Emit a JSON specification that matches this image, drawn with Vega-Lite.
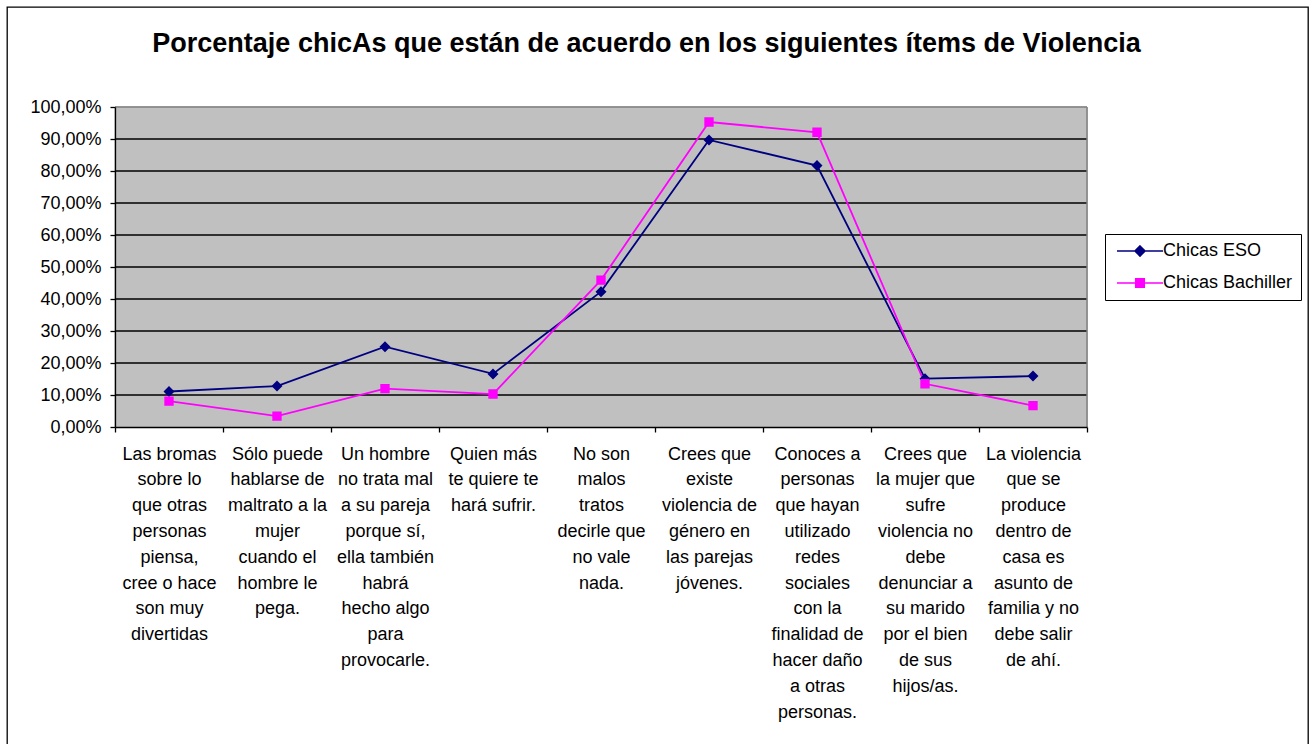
{
  "$schema": "https://vega.github.io/schema/vega-lite/v6.json",
  "width": 1301,
  "height": 738,
  "autosize": "none",
  "padding": {"left": 7, "top": 7, "right": 4, "bottom": 0},
  "background": "white",
  "config": {
    "font": "Liberation Sans",
    "view": {"stroke": "black", "strokeWidth": 1.3, "fill": "white"},
    "locale": {"number": {"decimal": ",", "thousands": ".", "grouping": [3], "currency": ["", " €"]}},
    "legend": {
      "orient": "none",
      "legendX": 1098,
      "legendY": 227,
      "strokeColor": "black",
      "fillColor": "white",
      "padding": 8,
      "labelFont": "Liberation Sans",
      "labelFontSize": 18,
      "labelColor": "black",
      "rowPadding": 14,
      "symbolSize": 100,
      "symbolStrokeWidth": 1.6,
      "symbolOffset": 18,
      "labelOffset": 14
    }
  },
  "title": {
    "text": "Porcentaje chicAs que están de acuerdo en los siguientes ítems de Violencia",
    "font": "Liberation Sans",
    "fontSize": 27,
    "fontWeight": "bold",
    "color": "black",
    "anchor": "middle",
    "frame": "group",
    "baseline": "alphabetic",
    "offset": -72,
    "dx": -11
  },
  "datasets": {
    "items": [
      {"item": "Las bromas\nsobre lo\nque otras\npersonas\npiensa,\ncree o hace\nson muy\ndivertidas", "serie": "Chicas ESO", "pct": 0.111},
      {"item": "Sólo puede\nhablarse de\nmaltrato a la\nmujer\ncuando el\nhombre le\npega.", "serie": "Chicas ESO", "pct": 0.128},
      {"item": "Un hombre\nno trata mal\na su pareja\nporque sí,\nella también\nhabrá\nhecho algo\npara\nprovocarle.", "serie": "Chicas ESO", "pct": 0.251},
      {"item": "Quien más\nte quiere te\nhará sufrir.", "serie": "Chicas ESO", "pct": 0.166},
      {"item": "No son\nmalos\ntratos\ndecirle que\nno vale\nnada.", "serie": "Chicas ESO", "pct": 0.423},
      {"item": "Crees que\nexiste\nviolencia de\ngénero en\nlas parejas\njóvenes.", "serie": "Chicas ESO", "pct": 0.897},
      {"item": "Conoces a\npersonas\nque hayan\nutilizado\nredes\nsociales\ncon la\nfinalidad de\nhacer daño\na otras\npersonas.", "serie": "Chicas ESO", "pct": 0.817},
      {"item": "Crees que\nla mujer que\nsufre\nviolencia no\ndebe\ndenunciar a\nsu marido\npor el bien\nde sus\nhijos/as.", "serie": "Chicas ESO", "pct": 0.151},
      {"item": "La violencia\nque se\nproduce\ndentro de\ncasa es\nasunto de\nfamilia y no\ndebe salir\nde ahí.", "serie": "Chicas ESO", "pct": 0.159},
      {"item": "Las bromas\nsobre lo\nque otras\npersonas\npiensa,\ncree o hace\nson muy\ndivertidas", "serie": "Chicas Bachiller", "pct": 0.081},
      {"item": "Sólo puede\nhablarse de\nmaltrato a la\nmujer\ncuando el\nhombre le\npega.", "serie": "Chicas Bachiller", "pct": 0.034},
      {"item": "Un hombre\nno trata mal\na su pareja\nporque sí,\nella también\nhabrá\nhecho algo\npara\nprovocarle.", "serie": "Chicas Bachiller", "pct": 0.120},
      {"item": "Quien más\nte quiere te\nhará sufrir.", "serie": "Chicas Bachiller", "pct": 0.103},
      {"item": "No son\nmalos\ntratos\ndecirle que\nno vale\nnada.", "serie": "Chicas Bachiller", "pct": 0.459},
      {"item": "Crees que\nexiste\nviolencia de\ngénero en\nlas parejas\njóvenes.", "serie": "Chicas Bachiller", "pct": 0.953},
      {"item": "Conoces a\npersonas\nque hayan\nutilizado\nredes\nsociales\ncon la\nfinalidad de\nhacer daño\na otras\npersonas.", "serie": "Chicas Bachiller", "pct": 0.921},
      {"item": "Crees que\nla mujer que\nsufre\nviolencia no\ndebe\ndenunciar a\nsu marido\npor el bien\nde sus\nhijos/as.", "serie": "Chicas Bachiller", "pct": 0.135},
      {"item": "La violencia\nque se\nproduce\ndentro de\ncasa es\nasunto de\nfamilia y no\ndebe salir\nde ahí.", "serie": "Chicas Bachiller", "pct": 0.067}
    ],
    "grid": [{"v": 0.1}, {"v": 0.2}, {"v": 0.3}, {"v": 0.4}, {"v": 0.5}, {"v": 0.6}, {"v": 0.7}, {"v": 0.8}, {"v": 0.9}],
    "one": [{"k": 1}]
  },
  "layer": [
    {
      "data": {"name": "items"},
      "mark": {"type": "rect", "fill": "#C0C0C0", "stroke": "#C0C0C0", "strokeWidth": 1},
      "encoding": {
        "x": {
          "field": "item", "type": "nominal", "sort": null, "title": null,
          "scale": {"range": [108, 1080], "paddingInner": 0, "paddingOuter": 0},
          "axis": {
            "orient": "bottom", "offset": -318, "tickBand": "extent", "tickSize": 5,
            "tickColor": "black", "domainColor": "black", "domainWidth": 1.3, "tickWidth": 1.3,
            "labelAngle": 0, "labelAlign": "center", "labelBaseline": "top",
            "labelExpr": "split(datum.label, '\\n')",
            "labelFont": "Liberation Sans", "labelFontSize": 18, "labelColor": "black",
            "labelLineHeight": 25.8, "labelPadding": 13, "labelLimit": 0, "labelOverlap": false,
            "grid": false, "title": null, "zindex": 1
          }
        },
        "y": {
          "datum": 0, "type": "quantitative", "title": null,
          "scale": {"domain": [0, 1], "range": [420, 100], "nice": false},
          "axis": {
            "orient": "left", "offset": -108, "values": [0, 0.1, 0.2, 0.3, 0.4, 0.5, 0.6, 0.7, 0.8, 0.9, 1],
            "format": ".2%", "tickSize": 5, "tickColor": "black", "domainColor": "black",
            "domainWidth": 1.3, "tickWidth": 1.3,
            "labelFont": "Liberation Sans", "labelFontSize": 18, "labelColor": "black",
            "labelPadding": 9, "grid": false, "title": null, "zindex": 1
          }
        },
        "y2": {"datum": 1}
      }
    },
    {
      "data": {"name": "grid"},
      "mark": {"type": "rule", "color": "black", "strokeWidth": 1.4},
      "encoding": {
        "x": {"datum": "Las bromas\nsobre lo\nque otras\npersonas\npiensa,\ncree o hace\nson muy\ndivertidas", "type": "nominal", "bandPosition": 0, "title": null},
        "x2": {"datum": "La violencia\nque se\nproduce\ndentro de\ncasa es\nasunto de\nfamilia y no\ndebe salir\nde ahí.", "bandPosition": 1},
        "y": {"field": "v", "type": "quantitative", "title": null}
      }
    },
    {
      "data": {"name": "one"},
      "mark": {"type": "rule", "color": "#808080", "strokeWidth": 1.5},
      "encoding": {
        "x": {"datum": "Las bromas\nsobre lo\nque otras\npersonas\npiensa,\ncree o hace\nson muy\ndivertidas", "type": "nominal", "bandPosition": 0, "title": null},
        "x2": {"datum": "La violencia\nque se\nproduce\ndentro de\ncasa es\nasunto de\nfamilia y no\ndebe salir\nde ahí.", "bandPosition": 1},
        "y": {"datum": 1, "type": "quantitative", "title": null}
      }
    },
    {
      "data": {"name": "one"},
      "mark": {"type": "rule", "color": "#808080", "strokeWidth": 1.5},
      "encoding": {
        "x": {"datum": "La violencia\nque se\nproduce\ndentro de\ncasa es\nasunto de\nfamilia y no\ndebe salir\nde ahí.", "type": "nominal", "bandPosition": 1, "title": null},
        "y": {"datum": 0, "type": "quantitative", "title": null},
        "y2": {"datum": 1}
      }
    },
    {
      "data": {"name": "items"},
      "mark": {"type": "line", "strokeWidth": 1.8},
      "encoding": {
        "x": {"field": "item", "type": "nominal", "sort": null, "title": null},
        "y": {"field": "pct", "type": "quantitative", "title": null},
        "color": {
          "field": "serie", "type": "nominal", "sort": ["Chicas ESO", "Chicas Bachiller"],
          "scale": {"domain": ["Chicas ESO", "Chicas Bachiller"], "range": ["#000080", "#FF00FF"]},
          "legend": {"title": null}
        }
      }
    },
    {
      "data": {"name": "items"},
      "mark": {"type": "point", "filled": true, "opacity": 1, "size": 121},
      "encoding": {
        "x": {"field": "item", "type": "nominal", "sort": null, "title": null},
        "y": {"field": "pct", "type": "quantitative", "title": null},
        "color": {"field": "serie", "type": "nominal", "legend": {"title": null}},
        "shape": {
          "field": "serie", "type": "nominal",
          "scale": {"domain": ["Chicas ESO", "Chicas Bachiller"], "range": ["M-4.6,0H4.6M0,-1L1,0L0,1L-1,0Z", "M-4.6,0H4.6M-0.85,-0.85H0.85V0.85H-0.85Z"]},
          "legend": {"title": null}
        }
      }
    }
  ]
}
